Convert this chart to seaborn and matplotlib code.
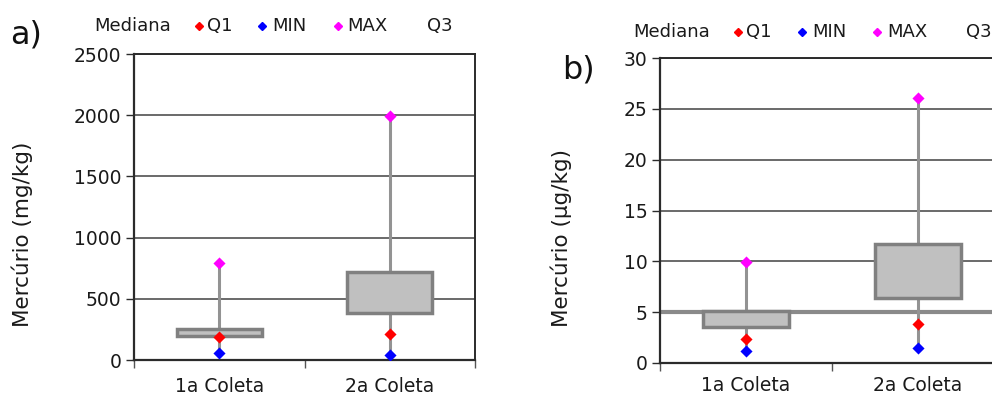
import matplotlib
matplotlib.use("Agg")
import matplotlib.pyplot as plt
from matplotlib.lines import Line2D
import seaborn as sns
import pandas as pd

sns.set_theme(style="white")
plt.rcParams["font.family"] = ["DejaVu Sans"]

# Categories and summary statistics per panel
categorias = ["1a Coleta", "2a Coleta"]

# a) Mercúrio (mg/kg)
a_mediana = [197, 381]
a_q1 = [185, 210]
a_q3 = [250, 721]
a_min = [60, 41]
a_max = [790, 1995]

# b) Mercúrio (µg/kg)
b_mediana = [3.5, 6.4]
b_q1 = [2.4, 3.84]
b_q3 = [5.15, 11.71]
b_min = [1.14, 1.44]
b_max = [9.9, 26.08]

legend_labels = ["Mediana", "Q1", "MIN", "MAX", "Q3"]
legend_colors = [None, "#ff0000", "#0000ff", "#ff00ff", None]

GRID = "#5e5e5e"
AXIS = "#2b2b2b"
WHISK = "#939393"
BOX_FACE = "#c0c0c0"
BOX_EDGE = "#808080"
TXT = "#1a1a1a"

fig = plt.figure(figsize=(9.92, 3.96), dpi=100)
W, H = 992, 396


def px_axes(left, top, right, bottom):
    return fig.add_axes([left / W, 1 - bottom / H, (right - left) / W, (bottom - top) / H])


def draw_panel(ax, med, q1, q3, vmin, vmax, ymax, step, ylabel, label_x, xpad):
    df = pd.DataFrame({"cat": categorias, "med": med, "q1": q1, "q3": q3,
                       "min": vmin, "max": vmax})
    x = list(range(len(categorias)))
    ax.set_axisbelow(True)
    # whiskers from minimum to maximum
    ax.vlines(x, df["min"], df["max"], color=WHISK, lw=2.2, zorder=2)
    # box between the median and Q3
    ax.bar(x, df["q3"] - df["med"], bottom=df["med"], width=0.5,
           color=BOX_FACE, edgecolor=BOX_EDGE, linewidth=2.5, zorder=3)
    for col, c in [("q1", "#ff0000"), ("min", "#0000ff"), ("max", "#ff00ff")]:
        sns.scatterplot(data=df, x=x, y=col, marker="D", color=c, s=38,
                        edgecolor=c, linewidth=0, ax=ax, zorder=4, legend=False)
    ax.set_xlim(-0.5, len(categorias) - 0.5)
    ax.set_ylim(0, ymax)
    yt = [i * step for i in range(int(round(ymax / step)) + 1)]
    ax.set_yticks(yt)
    ax.set_yticklabels([f"{v:g}" for v in yt], fontsize=13.5, color=TXT)
    ax.set_xticks([i - 0.5 for i in range(len(categorias) + 1)])
    ax.set_xticklabels([])
    ax.set_xticks(x, minor=True)
    ax.set_xticklabels(categorias, minor=True, fontsize=13.5, color=TXT)
    ax.tick_params(axis="x", which="major", length=6, width=1, color="#555555",
                   direction="out", bottom=True)
    ax.tick_params(axis="x", which="minor", length=0, pad=xpad)
    ax.tick_params(axis="y", length=6, width=1, color=AXIS, direction="out",
                   left=True, pad=3)
    ax.yaxis.grid(True, color=GRID, lw=1.3)
    ax.xaxis.grid(False)
    for s in ["left", "bottom"]:
        ax.spines[s].set_color(AXIS)
        ax.spines[s].set_linewidth(1.6)
    for s in ["top", "right"]:
        ax.spines[s].set_color(AXIS)
        ax.spines[s].set_linewidth(1.4)
    ax.set_xlabel("")
    ax.set_ylabel(ylabel, fontsize=15.5, color=TXT)
    ax.yaxis.set_label_coords(label_x, 0.41)


def draw_legend(y, text_x, marker_x):
    for lab, col, tx, mx in zip(legend_labels, legend_colors, text_x, marker_x):
        if col is not None:
            fig.add_artist(Line2D([mx / W], [1 - y / H], marker="D", markersize=4.5,
                                  color=col, linestyle="none",
                                  transform=fig.transFigure))
        fig.text(tx / W, 1 - y / H, lab, fontsize=13, color=TXT,
                 ha="left", va="center")


ax_a = px_axes(134, 54, 475, 360)
draw_panel(ax_a, a_mediana, a_q1, a_q3, a_min, a_max, 2500, 500,
           "Mercúrio (mg/kg)", (33 - 134) / 341, 12)

ax_b = px_axes(660, 58, 1004, 363)
draw_panel(ax_b, b_mediana, b_q1, b_q3, b_min, b_max, 30, 5,
           "Mercúrio (µg/kg)", (572 - 660) / 344, 9.5)
ax_b.spines["right"].set_visible(False)
ax_b.axhline(5, color="#8a8a8a", lw=3, zorder=1)

draw_legend(26, [94, 207, 272, 347, 427], [None, 199, 262, 338, None])
draw_legend(32, [633, 746, 812, 887, 966], [None, 738, 802, 877, None])

fig.text(10 / W, 1 - 35 / H, "a)", fontsize=23, color="#111111", ha="left", va="center")
fig.text(562 / W, 1 - 70 / H, "b)", fontsize=23, color="#111111", ha="left", va="center")

fig.savefig("out.png", dpi=100)
